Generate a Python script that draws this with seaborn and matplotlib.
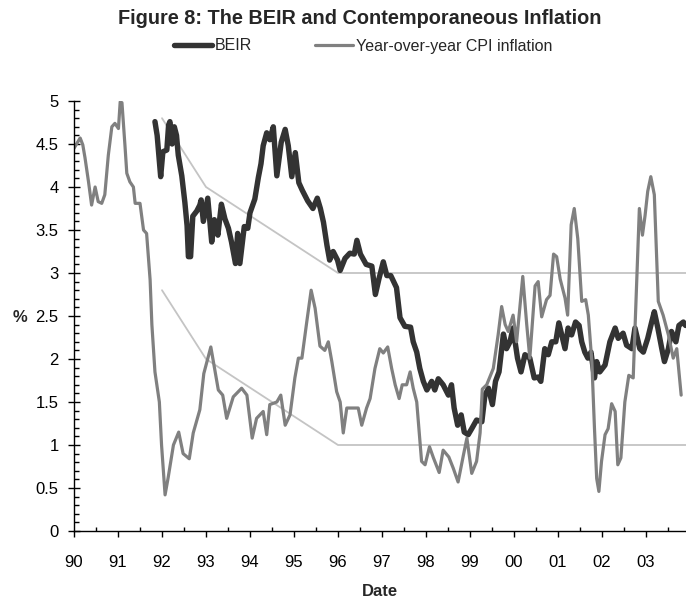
"""
Figure 8: BEIR vs. year-over-year CPI inflation, with the target band
- output: out.png (686x603)
"""
import numpy as np
import pandas as pd
import matplotlib
matplotlib.use("Agg")
import matplotlib.pyplot as plt
import seaborn as sns

# ---- data (decimal years, percent) ----
cpi_year = [
    1990.00, 1990.14, 1990.20, 1990.25, 1990.33, 1990.40, 1990.48, 1990.55, 1990.63, 1990.70,
    1990.78, 1990.86, 1990.93, 1991.01, 1991.05, 1991.09, 1991.16, 1991.20, 1991.27, 1991.35,
    1991.39, 1991.50, 1991.58, 1991.65, 1991.73, 1991.77, 1991.84, 1991.94, 1991.99, 1992.07,
    1992.14, 1992.26, 1992.38, 1992.48, 1992.62, 1992.71, 1992.86, 1992.95, 1993.11, 1993.28,
    1993.38, 1993.47, 1993.62, 1993.81, 1993.93, 1994.05, 1994.15, 1994.30, 1994.38, 1994.45,
    1994.61, 1994.70, 1994.80, 1994.91, 1995.02, 1995.10, 1995.18, 1995.29, 1995.39, 1995.48,
    1995.59, 1995.70, 1995.78, 1995.86, 1995.97, 1996.05, 1996.12, 1996.20, 1996.31, 1996.46,
    1996.54, 1996.65, 1996.73, 1996.84, 1996.95, 1997.03, 1997.13, 1997.22, 1997.30, 1997.39,
    1997.46, 1997.56, 1997.64, 1997.71, 1997.79, 1997.90, 1997.98, 1998.08, 1998.17, 1998.30,
    1998.39, 1998.52, 1998.62, 1998.73, 1998.85, 1998.93, 1999.04, 1999.15, 1999.23, 1999.28,
    1999.38, 1999.53, 1999.64, 1999.72, 1999.80, 1999.87, 1999.98, 2000.06, 2000.20, 2000.29,
    2000.36, 2000.48, 2000.55, 2000.63, 2000.74, 2000.82, 2000.90, 2000.97, 2001.05, 2001.16,
    2001.22, 2001.30, 2001.37, 2001.45, 2001.54, 2001.63, 2001.69, 2001.77, 2001.83, 2001.88,
    2001.93, 2001.99, 2002.07, 2002.14, 2002.22, 2002.30, 2002.36, 2002.43, 2002.52, 2002.61,
    2002.71, 2002.79, 2002.85, 2002.92, 2002.98, 2003.04, 2003.11, 2003.19, 2003.28, 2003.39,
    2003.51, 2003.62, 2003.70, 2003.80,
]
cpi_value = [
    4.45, 4.57, 4.49, 4.34, 4.06, 3.79, 4.00, 3.83, 3.81, 3.91,
    4.37, 4.70, 4.74, 4.68, 4.99, 4.98, 4.47, 4.16, 4.06, 4.00,
    3.81, 3.81, 3.50, 3.46, 2.92, 2.40, 1.85, 1.50, 1.00, 0.42,
    0.62, 1.00, 1.15, 0.90, 0.84, 1.14, 1.41, 1.83, 2.14, 1.64,
    1.58, 1.31, 1.56, 1.66, 1.58, 1.08, 1.31, 1.39, 1.12, 1.47,
    1.50, 1.58, 1.23, 1.35, 1.78, 2.01, 2.01, 2.43, 2.80, 2.59,
    2.15, 2.10, 2.20, 1.97, 1.62, 1.50, 1.14, 1.43, 1.43, 1.43,
    1.23, 1.43, 1.54, 1.89, 2.12, 2.07, 2.14, 1.89, 1.70, 1.54,
    1.70, 1.70, 1.85, 1.66, 1.50, 0.81, 0.77, 0.98, 0.85, 0.68,
    0.94, 0.86, 0.73, 0.57, 0.88, 1.08, 0.67, 0.81, 1.14, 1.65,
    1.70, 1.89, 2.28, 2.61, 2.40, 2.32, 2.51, 2.20, 2.96, 2.40,
    2.01, 2.85, 2.90, 2.49, 2.69, 2.74, 3.22, 3.19, 2.93, 2.71,
    2.51, 3.56, 3.75, 3.40, 2.67, 2.69, 2.51, 1.97, 1.19, 0.61,
    0.46, 0.81, 1.12, 1.19, 1.48, 1.39, 0.77, 0.85, 1.50, 1.81,
    1.78, 2.90, 3.75, 3.44, 3.67, 3.95, 4.12, 3.91, 2.67, 2.51,
    2.28, 2.01, 2.12, 1.58,
]

beir_year = [
    1991.84, 1991.89, 1991.97, 1992.02, 1992.11, 1992.15, 1992.18, 1992.23, 1992.28, 1992.33,
    1992.37, 1992.45, 1992.52, 1992.57, 1992.60, 1992.65, 1992.70, 1992.79, 1992.86, 1992.89,
    1992.94, 1993.04, 1993.13, 1993.19, 1993.27, 1993.35, 1993.43, 1993.51, 1993.58, 1993.67,
    1993.72, 1993.77, 1993.87, 1993.95, 1994.00, 1994.11, 1994.19, 1994.25, 1994.30, 1994.38,
    1994.45, 1994.53, 1994.61, 1994.71, 1994.80, 1994.87, 1994.95, 1995.03, 1995.11, 1995.19,
    1995.31, 1995.43, 1995.53, 1995.60, 1995.67, 1995.75, 1995.81, 1995.89, 1995.99, 1996.05,
    1996.16, 1996.27, 1996.37, 1996.43, 1996.51, 1996.64, 1996.77, 1996.85, 1996.93, 1997.03,
    1997.11, 1997.20, 1997.33, 1997.41, 1997.52, 1997.65, 1997.71, 1997.79, 1997.86, 1997.94,
    1998.02, 1998.13, 1998.20, 1998.28, 1998.39, 1998.51, 1998.58, 1998.64, 1998.72, 1998.80,
    1998.87, 1998.96, 1999.04, 1999.15, 1999.27, 1999.34, 1999.42, 1999.51, 1999.58, 1999.66,
    1999.76, 1999.83, 1999.91, 1999.98, 2000.08, 2000.16, 2000.25, 2000.36, 2000.46, 2000.55,
    2000.61, 2000.70, 2000.78, 2000.86, 2000.95, 2001.02, 2001.16, 2001.23, 2001.31, 2001.40,
    2001.48, 2001.54, 2001.61, 2001.68, 2001.75, 2001.83, 2001.88, 2001.95, 2002.07, 2002.18,
    2002.30, 2002.37, 2002.48, 2002.56, 2002.68, 2002.75, 2002.86, 2002.94, 2003.04, 2003.13,
    2003.19, 2003.27, 2003.36, 2003.42, 2003.51, 2003.58, 2003.68, 2003.75, 2003.85, 2003.90,
]
beir_value = [
    4.76, 4.60, 4.12, 4.41, 4.43, 4.72, 4.76, 4.50, 4.70, 4.60,
    4.37, 4.13, 3.82, 3.55, 3.19, 3.19, 3.66, 3.72, 3.79, 3.85,
    3.60, 3.87, 3.36, 3.62, 3.44, 3.80, 3.63, 3.52, 3.36, 3.11,
    3.46, 3.11, 3.54, 3.52, 3.70, 3.86, 4.11, 4.27, 4.48, 4.63,
    4.55, 4.70, 4.13, 4.52, 4.67, 4.48, 4.12, 4.40, 4.05, 3.96,
    3.84, 3.75, 3.87, 3.75, 3.59, 3.32, 3.15, 3.25, 3.15, 3.03,
    3.17, 3.23, 3.22, 3.38, 3.22, 3.10, 3.08, 2.75, 2.93, 3.13,
    2.97, 2.97, 2.83, 2.48, 2.38, 2.37, 2.20, 2.08, 1.89, 1.74,
    1.64, 1.74, 1.64, 1.77, 1.70, 1.58, 1.70, 1.43, 1.23, 1.35,
    1.15, 1.12, 1.19, 1.29, 1.27, 1.58, 1.66, 1.47, 1.74, 1.85,
    2.29, 2.12, 2.20, 2.36, 2.01, 1.85, 2.05, 2.01, 1.78, 1.79,
    1.74, 2.12, 2.05, 2.20, 2.20, 2.42, 2.12, 2.36, 2.28, 2.43,
    2.39, 2.20, 2.08, 2.01, 2.08, 1.78, 1.97, 1.85, 1.93, 2.20,
    2.36, 2.24, 2.30, 2.16, 2.12, 2.36, 2.12, 2.08, 2.24, 2.43,
    2.55, 2.36, 2.12, 1.97, 2.12, 2.32, 2.20, 2.39, 2.43, 2.39,
]

# inflation-control target band
band_year = [1992.0, 1993.0, 1996.0, 2003.91]
band_upper = [4.8, 4.0, 3.0, 3.0]
band_lower = [2.8, 2.0, 1.0, 1.0]

year_ticks = list(range(1990, 2004))
year_labels = ["90", "91", "92", "93", "94", "95", "96", "97", "98", "99",
               "00", "01", "02", "03"]
y_ticks = [0, 0.5, 1, 1.5, 2, 2.5, 3, 3.5, 4, 4.5, 5]
y_labels = ["0", "0.5", "1", "1.5", "2", "2.5", "3", "3.5", "4", "4.5", "5"]

# ---- style ----
sns.set_style("ticks")
plt.rcParams["font.family"] = ["Liberation Sans", "DejaVu Sans"]
plt.rcParams["axes.linewidth"] = 1.0

BEIR_C = "#333333"
CPI_C = "#808080"
BAND_C = "#c4c4c4"

fig = plt.figure(figsize=(6.86, 6.03), dpi=100)
ax = fig.add_axes([74 / 686, 1 - 531 / 603, 612 / 686, 430 / 603])

cpi = pd.DataFrame({"year": cpi_year, "value": cpi_value})
beir = pd.DataFrame({"year": beir_year, "value": beir_value})
band = pd.DataFrame({"year": band_year, "upper": band_upper, "lower": band_lower})

sns.lineplot(data=band, x="year", y="upper", ax=ax, color=BAND_C, linewidth=1.3)
sns.lineplot(data=band, x="year", y="lower", ax=ax, color=BAND_C, linewidth=1.3)
# BEIR first, CPI drawn on top (as in the original)
sns.lineplot(data=beir, x="year", y="value", ax=ax, color=BEIR_C, linewidth=3.9,
             label="BEIR")
sns.lineplot(data=cpi, x="year", y="value", ax=ax, color=CPI_C, linewidth=2.3,
             label="Year-over-year CPI inflation")

ax.set_xlim(1990, 2003.91)
ax.set_ylim(0, 5)
sns.despine(ax=ax)
ax.spines["left"].set_color("black")
ax.spines["bottom"].set_color("black")

ax.set_xticks(year_ticks)
ax.set_xticklabels(year_labels, fontsize=12)
ax.set_xticks([y + 0.5 for y in year_ticks], minor=True)
ax.set_yticks(y_ticks)
ax.set_yticklabels(y_labels, fontsize=12)
ax.set_yticks(np.arange(0, 5.01, 0.1), minor=True)

ax.tick_params(axis="x", which="major", direction="out", length=4.3, width=1, pad=13, colors="black")
ax.tick_params(axis="x", which="minor", direction="in", length=2.9, width=1, colors="black")
ax.tick_params(axis="y", which="major", direction="inout", length=8, width=1, pad=7, colors="black")
ax.tick_params(axis="y", which="minor", direction="in", length=3.6, width=1, colors="black")

ax.set_xlabel("")
ax.set_ylabel("")
fig.text(380 / 686, 1 - 591 / 603, "Date", ha="center", va="center",
         fontsize=12, fontweight="bold")
fig.text(20 / 686, 1 - 317 / 603, "%", ha="center", va="center",
         fontsize=12, fontweight="bold")
fig.text(360 / 686, 1 - 18 / 603, "Figure 8: The BEIR and Contemporaneous Inflation",
         ha="center", va="center", fontsize=14.3, fontweight="bold")

handles, labels = ax.get_legend_handles_labels()
ax.legend(handles, labels,
          loc="center", bbox_to_anchor=(363 / 686, 1 - 46 / 603),
          bbox_transform=fig.transFigure, ncol=2, frameon=False,
          fontsize=11.5, handlelength=2.4, handletextpad=0.2,
          columnspacing=3.9, borderaxespad=0, borderpad=0)

fig.savefig("out.png", dpi=100)
plt.close(fig)
